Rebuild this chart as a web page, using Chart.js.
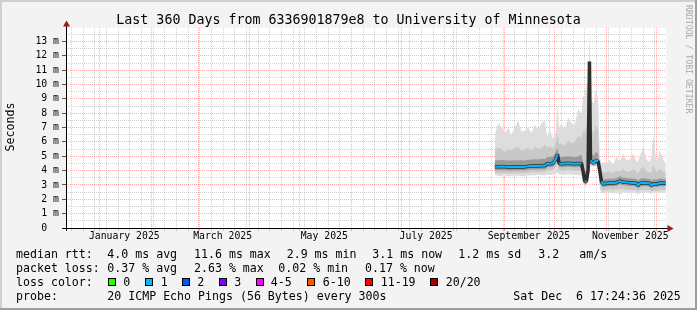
<!DOCTYPE html>
<html>
<head>
<meta charset="utf-8">
<script src="https://cdn.jsdelivr.net/npm/chart.js"></script>
<style>
  html, body { margin: 0; padding: 0; background: #f3f3f3; }
  canvas { display: block; }
</style>
</head>
<body>
<canvas id="myChart" width="697" height="310"></canvas>
<script>
// x values are days counted from 1 January 2025
const days = [237, 239, 241, 243, 245, 247, 249, 251, 253, 255, 257, 259, 261, 263, 265, 267, 268.5, 270, 272, 273.6,
  274.6, 275.6, 277, 279, 281, 283, 285, 287, 289, 290, 291, 292, 293, 293.8, 294.4, 295.2, 296.4, 297.5, 299, 300,
  301, 302, 304, 306, 308, 310, 312, 314, 316, 318, 320, 322, 323, 324, 326, 328, 330, 331, 332, 334, 336, 338, 339.6];

// median rtt in ms
const medianRtt = [4.27, 4.27, 4.28, 4.27, 4.26, 4.25, 4.27, 4.25, 4.27, 4.26, 4.30, 4.32, 4.33, 4.32, 4.35, 4.33, 4.50, 4.48, 4.52, 4.80,
  5.13, 4.50, 4.48, 4.50, 4.52, 4.50, 4.48, 4.50, 4.50, 3.95, 3.23, 3.27, 4.05, 11.6, 4.70, 4.62, 4.50, 4.72, 4.65, 4.00,
  3.23, 3.07, 3.12, 3.14, 3.13, 3.16, 3.28, 3.20, 3.18, 3.15, 3.14, 3.12, 2.95, 3.12, 3.14, 3.13, 3.12, 2.95, 3.08, 3.07, 3.13, 3.12, 3.14];

// smoke: outer (max/min), middle and inner bands
const smokeMax = [6.5, 7.3, 7.0, 6.6, 7.0, 6.5, 7.0, 7.5, 6.7, 6.8, 7.0, 6.6, 7.2, 6.9, 7.3, 7.5, 6.4, 6.9, 6.2, 6.8,
  8.5, 7.0, 7.3, 6.9, 7.7, 7.3, 7.2, 8.3, 8.0, 9.2, 9.2, 10.1, 9.2, 13.94, 9.0, 8.9, 8.7, 9.6, 9.0, 5.0,
  4.5, 4.6, 4.5, 4.7, 4.4, 5.0, 4.6, 5.2, 4.7, 4.8, 5.2, 4.6, 4.7, 5.0, 5.7, 4.8, 4.6, 5.0, 6.5, 4.6, 5.4, 4.8, 4.5];
const smokeMin = [3.70, 3.65, 3.62, 3.68, 3.60, 3.65, 3.62, 3.66, 3.60, 3.64, 3.65, 3.68, 3.66, 3.70, 3.68, 3.66, 3.72, 3.70, 3.74, 3.78,
  3.85, 3.75, 3.72, 3.70, 3.74, 3.72, 3.70, 3.72, 3.65, 3.20, 2.90, 2.95, 3.60, 4.20, 4.30, 4.30, 4.25, 4.30, 4.10, 2.70,
  2.45, 2.40, 2.45, 2.50, 2.40, 2.45, 2.35, 2.45, 2.50, 2.40, 2.45, 2.42, 2.30, 2.45, 2.40, 2.50, 2.40, 2.35, 2.45, 2.40, 2.45, 2.45, 2.50];
const smokeHigh = [5.4, 5.6, 5.5, 5.3, 5.5, 5.4, 5.6, 5.7, 5.4, 5.5, 5.6, 5.4, 5.7, 5.5, 5.6, 5.8, 5.6, 5.7, 5.5, 5.9,
  6.6, 5.8, 5.9, 5.7, 6.1, 5.9, 6.0, 6.4, 6.3, 6.8, 6.6, 7.2, 7.0, 12.5, 7.0, 6.9, 6.6, 7.2, 6.8, 4.3,
  3.9, 3.85, 3.9, 3.95, 3.85, 4.0, 3.95, 4.1, 3.95, 3.9, 4.1, 3.9, 3.8, 4.0, 4.3, 3.95, 3.9, 3.85, 4.4, 3.9, 4.1, 3.95, 3.85];
const smokeLow = [3.82, 3.82, 3.83, 3.82, 3.81, 3.80, 3.82, 3.80, 3.82, 3.81, 3.85, 3.87, 3.88, 3.87, 3.90, 3.88, 4.02, 4.00, 4.04, 4.25,
  4.50, 4.00, 3.98, 4.00, 4.02, 4.00, 3.98, 4.00, 3.95, 3.40, 3.00, 3.05, 3.80, 4.40, 4.40, 4.40, 4.32, 4.42, 4.30, 3.10,
  2.70, 2.62, 2.65, 2.68, 2.66, 2.68, 2.72, 2.70, 2.68, 2.66, 2.65, 2.64, 2.55, 2.64, 2.66, 2.65, 2.64, 2.55, 2.62, 2.60, 2.65, 2.64, 2.66];
const smokeInnerHigh = [4.72, 4.72, 4.74, 4.72, 4.70, 4.70, 4.72, 4.70, 4.72, 4.71, 4.75, 4.78, 4.80, 4.78, 4.82, 4.80, 4.95, 4.95, 5.0, 5.3,
  5.6, 4.98, 4.95, 4.98, 5.0, 4.98, 4.95, 5.0, 5.1, 4.6, 3.9, 4.0, 4.9, 11.9, 5.3, 5.2, 5.0, 5.3, 5.2, 3.6,
  3.5, 3.38, 3.42, 3.45, 3.43, 3.47, 3.6, 3.5, 3.48, 3.45, 3.45, 3.42, 3.3, 3.42, 3.48, 3.43, 3.42, 3.3, 3.4, 3.38, 3.45, 3.42, 3.44];
const smokeInnerLow = [4.02, 4.02, 4.03, 4.02, 4.01, 4.00, 4.02, 4.00, 4.02, 4.01, 4.05, 4.07, 4.08, 4.07, 4.10, 4.08, 4.25, 4.23, 4.27, 4.50,
  4.80, 4.25, 4.23, 4.25, 4.27, 4.25, 4.23, 4.25, 4.20, 3.60, 3.05, 3.10, 3.90, 4.50, 4.50, 4.45, 4.38, 4.50, 4.40, 3.40,
  2.95, 2.86, 2.90, 2.92, 2.91, 2.94, 3.05, 2.98, 2.96, 2.93, 2.92, 2.90, 2.75, 2.90, 2.92, 2.91, 2.90, 2.75, 2.86, 2.85, 2.91, 2.90, 2.92];

// x axis: month starts (red lines), sundays (grey lines), label positions
const monthStarts = [0, 31, 59, 90, 120, 151, 181, 212, 243, 273, 304, 334];
const weekLines = [-17, -10, -3, 4, 11, 18, 25, 32, 39, 46, 53, 60, 67, 74, 81, 88, 95, 102, 109, 116, 123, 130, 137, 144,
  158, 165, 172, 179, 186, 193, 200, 207, 214, 221, 228, 235, 242, 249, 256, 263, 270, 277, 284, 291, 298, 305, 312, 319, 326, 333];
const monthLabelDays = [14.7, 73.7, 134.7, 195.8, 257.5, 318.3];
const monthLabels = ["January 2025", "March 2025", "May 2025", "July 2025", "September 2025", "November 2025"];

// y axis
const yTickValues = [0, 0.5, 1, 1.5, 2, 2.5, 3, 3.5, 4, 4.5, 5, 5.5, 6, 6.5, 7, 7.5, 8, 8.5, 9, 9.5, 10, 10.5, 11, 11.5, 12, 12.5, 13, 13.5];

const title = "Last 360 Days from 6336901879e8 to University of Minnesota";
const rttStats = ["4.0 ms avg", "11.6 ms max", "2.9 ms min", "3.1 ms now", "1.2 ms sd", "3.2", "am/s"];
const lossStats = ["0.37 % avg", "2.63 % max", "0.02 % min", "0.17 % now"];
const lossLabels = ["0", "1", "2", "3", "4-5", "6-10", "11-19", "20/20"];
const lossColors = ["#26ff00", "#00b8ff", "#0059ff", "#7e00ff", "#ff00ff", "#ff5500", "#ff0000", "#a10000"];
const probeText = "20 ICMP Echo Pings (56 Bytes) every 300s";
const stampText = "Sat Dec  6 17:24:36 2025";

const MONO = "'DejaVu Sans Mono'";
const majorGrid = "rgba(255,0,0,0.32)";
const minorGrid = "rgba(140,140,140,0.4)";
const clear = "rgba(0,0,0,0)";

function pts(arr) {
  return days.map((d, i) => ({x: d, y: arr[i]}));
}

function band(arr, color, fill) {
  return {data: pts(arr), borderWidth: 0, borderColor: clear, backgroundColor: color,
    pointRadius: 0, fill: fill, tension: 0};
}

function xGrid(v) {
  if (monthStarts.includes(v)) return majorGrid;
  if (weekLines.includes(v)) return minorGrid;
  return clear;
}

function yGrid(v) {
  return Number.isInteger(v) ? majorGrid : minorGrid;
}

const chrome = {
  id: "chrome",
  beforeDraw(chart) {
    const {ctx, chartArea: a} = chart;
    ctx.save();
    ctx.fillStyle = "#f3f3f3";
    ctx.fillRect(0, 0, 697, 310);
    ctx.fillStyle = "#cfcfcf";
    ctx.fillRect(0, 0, 697, 2);
    ctx.fillRect(0, 0, 2, 310);
    ctx.fillStyle = "#9e9e9e";
    ctx.fillRect(0, 308, 697, 2);
    ctx.fillRect(695, 0, 2, 310);
    ctx.fillStyle = "#ffffff";
    ctx.fillRect(a.left, a.top, a.right - a.left, a.bottom - a.top);
    ctx.restore();
  },
  afterDraw(chart) {
    const {ctx, chartArea: a} = chart;
    ctx.save();
    // axes
    ctx.strokeStyle = "#000";
    ctx.lineWidth = 1;
    ctx.beginPath();
    ctx.moveTo(a.left + 0.5, a.bottom + 3);
    ctx.lineTo(a.left + 0.5, a.top - 4);
    ctx.moveTo(a.left - 4, a.bottom + 0.5);
    ctx.lineTo(a.right + 4, a.bottom + 0.5);
    ctx.stroke();
    ctx.fillStyle = "#9b1c1c";
    ctx.beginPath();
    ctx.moveTo(a.left + 0.5, a.top - 7.5);
    ctx.lineTo(a.left - 3, a.top - 1.5);
    ctx.lineTo(a.left + 4, a.top - 1.5);
    ctx.closePath();
    ctx.fill();
    ctx.beginPath();
    ctx.moveTo(a.right + 7.5, a.bottom + 0.5);
    ctx.lineTo(a.right + 1.5, a.bottom - 3);
    ctx.lineTo(a.right + 1.5, a.bottom + 4);
    ctx.closePath();
    ctx.fill();

    // title
    ctx.fillStyle = "#000";
    ctx.font = "13.3px " + MONO;
    ctx.textAlign = "center";
    ctx.textBaseline = "alphabetic";
    ctx.fillText(title, 348.5, 24);

    // y unit
    ctx.save();
    ctx.translate(10.5, 127);
    ctx.rotate(-Math.PI / 2);
    ctx.font = "11.6px " + MONO;
    ctx.textBaseline = "middle";
    ctx.fillText("Seconds", 0, 0);
    ctx.restore();

    // watermark
    ctx.save();
    ctx.translate(688, 5);
    ctx.rotate(Math.PI / 2);
    ctx.font = "8.2px " + MONO;
    ctx.fillStyle = "#a8a8a8";
    ctx.textAlign = "left";
    ctx.textBaseline = "middle";
    ctx.fillText("RRDTOOL / TOBI OETIKER", 0, 0);
    ctx.restore();

    // legend
    ctx.font = "11.6px " + MONO;
    ctx.textAlign = "left";
    ctx.fillStyle = "#000";
    const rows = [257.5, 271.5, 285.5, 299.5];
    ctx.fillText("median rtt:", 16, rows[0]);
    const rttX = [107.3, 194, 286.7, 372.3, 458.3, 538.3, 579.3];
    rttStats.forEach((s, i) => ctx.fillText(s, rttX[i], rows[0]));
    ctx.fillText("packet loss:", 16, rows[1]);
    const lossX = [107.3, 194, 278.3, 365];
    lossStats.forEach((s, i) => ctx.fillText(s, lossX[i], rows[1]));
    ctx.fillText("loss color:", 16, rows[2]);
    const boxX = [108.5, 145.5, 182.5, 219.5, 256.5, 307.5, 365.5, 430.5];
    const boxT = [123.3, 160.7, 197.3, 234.3, 270.7, 322.7, 380.7, 445.7];
    lossLabels.forEach((s, i) => {
      ctx.fillStyle = lossColors[i];
      ctx.fillRect(boxX[i], 278.5, 7, 7);
      ctx.strokeStyle = "#000";
      ctx.strokeRect(boxX[i], 278.5, 7, 7);
      ctx.fillStyle = "#000";
      ctx.fillText(s, boxT[i], rows[2]);
    });
    ctx.fillText("probe:", 16, rows[3]);
    ctx.fillText(probeText, 107.3, rows[3]);
    ctx.fillText(stampText, 513.3, rows[3]);
    ctx.restore();
  }
};

new Chart("myChart", {
  type: "line",
  data: {
    datasets: [
      {data: pts(medianRtt), borderColor: "#00b8ff", borderWidth: 2, pointRadius: 0, fill: false, tension: 0,
        borderJoinStyle: "round",
        segment: {
          borderColor: c => Math.abs(c.p1.parsed.y - c.p0.parsed.y) > 0.45 ? clear : "#00b8ff"
        }},
      {data: pts(medianRtt), borderColor: "#2e2e2e", borderWidth: 3.5, pointRadius: 0, fill: false, tension: 0,
        borderJoinStyle: "bevel"},
      band(smokeInnerHigh, "#9a9a9a", "+1"),
      band(smokeInnerLow, "#9a9a9a", false),
      band(smokeHigh, "#c8c8c8", "+1"),
      band(smokeLow, "#c8c8c8", false),
      band(smokeMax, "#dddddd", "+1"),
      band(smokeMin, "#dddddd", false)
    ]
  },
  options: {
    responsive: false,
    animation: false,
    devicePixelRatio: 1,
    layout: {padding: {left: 0, top: 28, right: 31, bottom: 62}, autoPadding: false},
    plugins: {legend: {display: false}, tooltip: {enabled: false}, title: {display: false}},
    scales: {
      x: {
        type: "linear",
        min: -20.275,
        max: 339.725,
        z: 1,
        afterBuildTicks: s => {
          const vals = monthStarts.concat(weekLines, monthLabelDays).sort((p, q) => p - q);
          s.ticks = vals.map(v => ({value: v}));
        },
        afterFit: s => { s.height = 20; },
        grid: {
          color: c => xGrid(c.tick.value),
          tickColor: c => xGrid(c.tick.value),
          tickLength: 3,
          lineWidth: 1
        },
        border: {display: false, dash: [1, 1]},
        ticks: {
          autoSkip: false, maxRotation: 0, minRotation: 0, padding: 0, color: "#000",
          font: {family: MONO, size: 9.8},
          callback: v => {
            const i = monthLabelDays.indexOf(v);
            return i >= 0 ? monthLabels[i] : "";
          }
        }
      },
      y: {
        min: 0,
        max: 13.94,
        z: 1,
        afterBuildTicks: s => { s.ticks = yTickValues.map(v => ({value: v})); },
        afterFit: s => { s.width = 66; },
        grid: {
          color: c => yGrid(c.tick.value),
          tickColor: c => Number.isInteger(c.tick.value) ? "#555555" : clear,
          tickLength: 4,
          lineWidth: 1
        },
        border: {display: false, dash: [1, 1]},
        ticks: {
          autoSkip: false, padding: 3, color: "#000",
          font: {family: MONO, size: 9.8},
          callback: v => {
            if (v === 0) return "0  ";
            return Number.isInteger(v) ? v + " m" : "";
          }
        }
      }
    }
  },
  plugins: [chrome]
});
</script>
</body>
</html>
